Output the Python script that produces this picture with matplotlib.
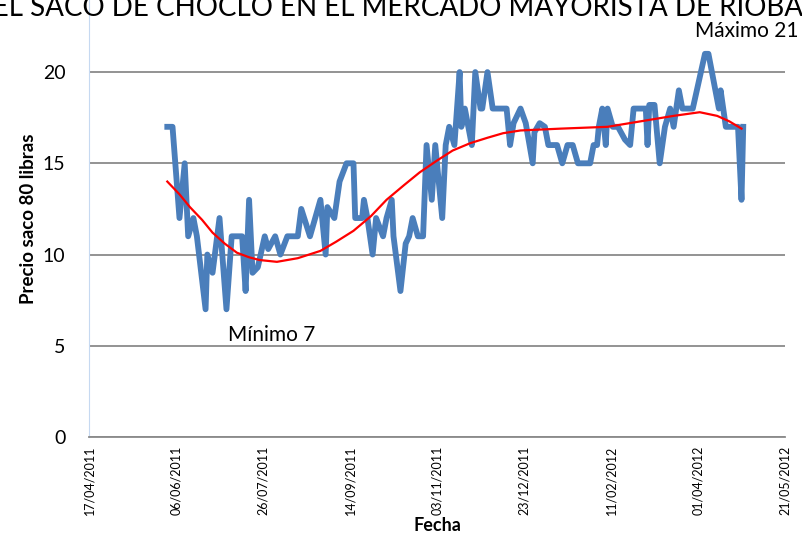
import numpy as np
import matplotlib.pyplot as plt
import matplotlib.dates as mdates
from datetime import datetime, timedelta

plt.rcParams['font.family'] = ['Lato', 'DejaVu Sans']

#fechas y precios
fechas = ['2011-06-01', '2011-06-04', '2011-06-08', '2011-06-11', '2011-06-13', '2011-06-16',
          '2011-06-18', '2011-06-23', '2011-06-24', '2011-06-27', '2011-07-01', '2011-07-05',
          '2011-07-08', '2011-07-14', '2011-07-16', '2011-07-18', '2011-07-20', '2011-07-23',
          '2011-07-27', '2011-07-29', '2011-08-02', '2011-08-05', '2011-08-09', '2011-08-15',
          '2011-08-17', '2011-08-22', '2011-08-28', '2011-08-31', '2011-09-01', '2011-09-05',
          '2011-09-08', '2011-09-12', '2011-09-16', '2011-09-17', '2011-09-21', '2011-09-22',
          '2011-09-24', '2011-09-27', '2011-09-29', '2011-10-03', '2011-10-05', '2011-10-08',
          '2011-10-09', '2011-10-13', '2011-10-16', '2011-10-18', '2011-10-20', '2011-10-23',
          '2011-10-26', '2011-10-28', '2011-10-31', '2011-11-02', '2011-11-06', '2011-11-08',
          '2011-11-10', '2011-11-13', '2011-11-16', '2011-11-17', '2011-11-19', '2011-11-21',
          '2011-11-23', '2011-11-25', '2011-11-28', '2011-11-29', '2011-12-02', '2011-12-05',
          '2011-12-13', '2011-12-15', '2011-12-17', '2011-12-21', '2011-12-24', '2011-12-28',
          '2011-12-29', '2012-01-01', '2012-01-04', '2012-01-06', '2012-01-11', '2012-01-14',
          '2012-01-17', '2012-01-20', '2012-01-23', '2012-01-30', '2012-02-01', '2012-02-03',
          '2012-02-04', '2012-02-06', '2012-02-08', '2012-02-09', '2012-02-12', '2012-02-15',
          '2012-02-19', '2012-02-22', '2012-02-24', '2012-03-02', '2012-03-03', '2012-03-04',
          '2012-03-07', '2012-03-10', '2012-03-13', '2012-03-16', '2012-03-18', '2012-03-21',
          '2012-03-23', '2012-03-29', '2012-04-05', '2012-04-07', '2012-04-13', '2012-04-14',
          '2012-04-17', '2012-04-24', '2012-04-26', '2012-04-27']
precios = [17, 17, 12, 15, 11, 12,
           11, 7, 10, 9, 12, 7,
           11, 11, 8, 13, 9, 9.3,
           11, 10.3, 11, 10, 11, 11,
           12.5, 11, 13, 10, 12.6, 12,
           14, 15, 15, 12, 12, 13,
           12, 10, 12, 11, 12, 13,
           11, 8, 10.6, 11, 12, 11,
           11, 16, 13, 16, 12, 16,
           17, 16, 20, 17, 18, 17,
           16, 20, 18, 18, 20, 18,
           18, 16, 17.2, 18, 17.2, 15,
           16.7, 17.2, 17, 16, 16, 15,
           16, 16, 15, 15, 16, 16,
           17, 18, 16, 18, 17, 17,
           16.3, 16, 18, 18, 16, 18.2,
           18.2, 15, 17, 18, 17, 19,
           18, 18, 21, 21, 18, 19,
           17, 17, 13, 17]

#linea de tendencia
tend_fechas = ['2011-06-01', '2011-06-08', '2011-06-14', '2011-06-21', '2011-06-27', '2011-07-04',
               '2011-07-11', '2011-07-18', '2011-07-24', '2011-08-03', '2011-08-15', '2011-08-28',
               '2011-09-06', '2011-09-16', '2011-09-26', '2011-10-05', '2011-10-15', '2011-10-24',
               '2011-11-03', '2011-11-12', '2011-11-22', '2011-12-02', '2011-12-11', '2011-12-21',
               '2012-01-13', '2012-02-09', '2012-02-28', '2012-03-18', '2012-04-02', '2012-04-12',
               '2012-04-19', '2012-04-26']
tend_valores = [14.0, 13.3, 12.6, 11.9, 11.2, 10.6,
                10.1, 9.85, 9.7, 9.6, 9.8, 10.2,
                10.7, 11.3, 12.1, 13.0, 13.8, 14.5,
                15.15, 15.7, 16.1, 16.4, 16.65, 16.8,
                16.9, 17.0, 17.3, 17.6, 17.8, 17.6,
                17.3, 16.9]

titulo = 'PRECIO DEL SACO DE CHOCLO EN EL MERCADO MAYORISTA DE RIOBAMBA'

def main():
    x = [datetime.strptime(f, '%Y-%m-%d') for f in fechas]
    xt = [datetime.strptime(f, '%Y-%m-%d') for f in tend_fechas]

    fig = plt.figure(figsize=(8.03, 5.37), dpi=100)
    ax = fig.add_axes([89/803, 1 - 437/537, (785 - 89)/803, 437/537])

    ax.plot(x, precios, color='#4a7ebb', lw=4.2, solid_joinstyle='round', zorder=3)
    ax.plot(xt, tend_valores, color='red', lw=1.6, solid_joinstyle='round', zorder=4)

    inicio = datetime(2011, 4, 17)
    ticks = [inicio + timedelta(days=50*i) for i in range(9)]
    ax.set_xticks(ticks)
    ax.xaxis.set_major_formatter(mdates.DateFormatter('%d/%m/%Y'))
    ax.set_xlim(ticks[0], ticks[-1])
    ax.set_ylim(0, 23.95)
    ax.set_yticks([0, 5, 10, 15, 20])
    ax.yaxis.grid(True, color='#8a8a8a', lw=1.3)
    ax.set_axisbelow(True)
    for lbl in ax.get_xticklabels():
        lbl.set_rotation(90)
        lbl.set_fontsize(9)
    ax.tick_params(axis='y', labelsize=14, length=0, pad=17)
    ax.tick_params(axis='x', length=0, pad=6)

    for s in ['top', 'right']:
        ax.spines[s].set_visible(False)
    ax.spines['left'].set_color('#c6d9f1')
    ax.spines['bottom'].set_color('#8a8a8a')
    ax.spines['bottom'].set_linewidth(1.3)

    ax.set_xlabel('Fecha', fontsize=13, fontweight='bold', labelpad=2)
    ax.set_ylabel('Precio saco 80 libras', fontsize=13.5, fontweight='bold', labelpad=4)

    ax.text(datetime(2011, 7, 31), 5.6, 'Mínimo 7', fontsize=15, ha='center', va='center')
    ax.text(datetime(2012, 4, 29), 22.25, 'Máximo 21', fontsize=15, ha='center', va='center')

    #titulo cortado en el borde superior, como en la imagen original
    fig.text(0.456, 1 - 16/537, titulo, fontsize=20, ha='center', va='baseline')

    fig.savefig('out.png', dpi=100)

if __name__ == '__main__':
    main()
